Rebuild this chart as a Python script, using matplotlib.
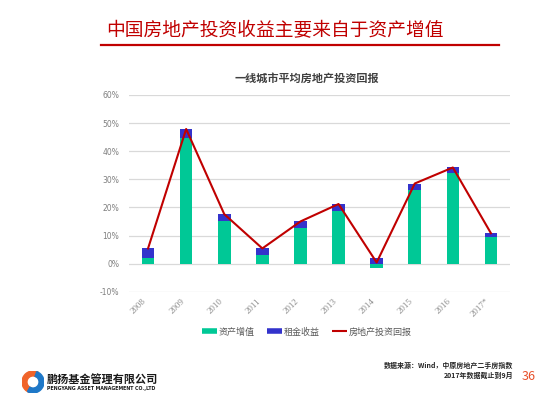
import matplotlib
matplotlib.use("Agg")
import matplotlib.pyplot as plt
import numpy as np
from matplotlib.lines import Line2D
from matplotlib.patches import Wedge

plt.rcParams['font.family'] = ['Noto Sans CJK SC', 'DejaVu Sans']

# data (percent)
years = ["2008", "2009", "2010", "2011", "2012", "2013", "2014", "2015", "2016", "2017*"]
asset_growth = [2.0, 44.6, 15.0, 3.1, 12.7, 18.8, -1.7, 26.3, 32.2, 9.5]
rent_yield = [3.4, 3.3, 2.6, 2.3, 2.3, 2.4, 2.1, 2.2, 2.0, 1.3]
y_ticks = [-10, 0, 10, 20, 30, 40, 50, 60]

GREEN = "#00C896"
BLUE = "#3333CC"
RED = "#C00000"
W, H = 550, 395


def fx(px):
    return px / W


def fy(py):
    return 1 - py / H


fig = plt.figure(figsize=(5.5, 3.95), dpi=100)

# header
fig.text(fx(106), fy(31), "中国房地产投资收益主要来自于资产增值",
         fontsize=13.5, color=RED, va="center", ha="left")
fig.add_artist(Line2D([fx(101), fx(499)], [fy(45), fy(45)], color=RED, lw=1.6))

# chart
ax = fig.add_axes([fx(129), fy(291.7), fx(510) - fx(129), fy(95) - fy(291.7)])
x = np.arange(len(years))
growth = np.array(asset_growth)
rent = np.array(rent_yield)
total = growth + rent

ax.bar(x, growth, width=0.33, color=GREEN, zorder=2)
ax.bar(x, rent, width=0.33, bottom=np.maximum(growth, 0), color=BLUE, zorder=2)
ax.plot(x, total, color=RED, lw=1.5, zorder=3)

ax.set_xlim(-0.5, len(years) - 0.5)
ax.set_ylim(-10, 60)
ax.set_yticks(y_ticks)
ax.set_yticklabels([f"{v}%" for v in y_ticks], fontsize=5.5, color="#7F7F7F",
                   family="DejaVu Sans")
ax.set_xticks(x)
ax.set_xticklabels(years, rotation=45, ha="right", fontsize=6.5, color="#8C8C8C",
                   family="Liberation Serif")
ax.tick_params(length=0, axis="y", pad=7)
ax.tick_params(length=0, axis="x", pad=4)
for s in ax.spines.values():
    s.set_visible(False)
ax.grid(axis="y", color="#D9D9D9", lw=0.9, zorder=0)
ax.set_axisbelow(True)

fig.text(fx(307), fy(78), "一线城市平均房地产投资回报", fontsize=8, fontweight="bold",
         color="#404040", ha="center", va="center")

handles = [Line2D([], [], color=GREEN, lw=4, solid_capstyle="butt"),
           Line2D([], [], color=BLUE, lw=4, solid_capstyle="butt"),
           Line2D([], [], color=RED, lw=1.5, solid_capstyle="butt")]
fig.legend(handles, ["资产增值", "租金收益", "房地产投资回报"], loc="center",
           bbox_to_anchor=(fx(307), fy(332)), ncol=3, frameon=False, fontsize=6.5,
           labelcolor="#595959", handlelength=1.6, handletextpad=0.2, columnspacing=1.4)

# footer
fig.text(fx(513), fy(365), "数据来源：Wind，中原房地产二手房指数", fontsize=5,
         color="#262626", ha="right", va="center", fontweight="bold")
fig.text(fx(513), fy(375), "2017年数据截止到9月", fontsize=5,
         color="#262626", ha="right", va="center", fontweight="bold")
fig.text(fx(529), fy(376), "36", fontsize=9, color="#E8502A", ha="center", va="center")

# logo
lax = fig.add_axes([fx(22), fy(393), fx(22) - fx(0), fy(0) - fy(22)])
lax.set_xlim(-1, 1)
lax.set_ylim(-1, 1)
lax.set_aspect("equal")
lax.axis("off")
lax.add_patch(Wedge((0, 0), 1, 60, 250, width=0.45, color="#F0642A"))
lax.add_patch(Wedge((0, 0), 1, 240, 430, width=0.45, color="#1E78C8"))
fig.text(fx(47), fy(379), "鹏扬基金管理有限公司", fontsize=8, fontweight="bold",
         color="#1A1A1A", ha="left", va="center")
fig.text(fx(47), fy(388.5), "PENGYANG ASSET MANAGEMENT CO.,LTD", fontsize=3.4,
         fontweight="bold", color="#1A1A1A", ha="left", va="center", family="DejaVu Sans")

fig.savefig("out.png", dpi=100, facecolor="white")
